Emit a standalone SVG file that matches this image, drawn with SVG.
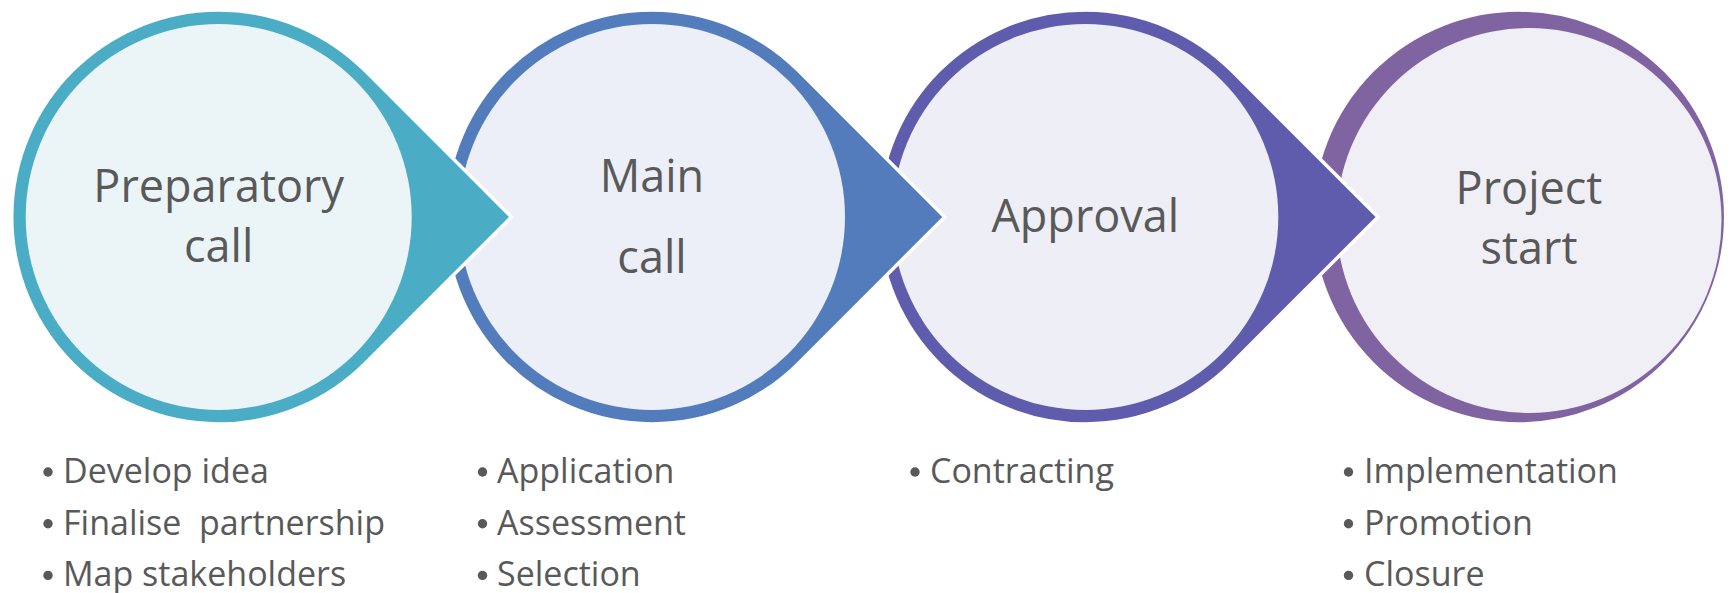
<svg xmlns="http://www.w3.org/2000/svg" width="1731" height="593" viewBox="0 0 1731 593">
  <style>
    .shape { stroke: #FFFFFF; stroke-width: 3.5; stroke-linejoin: miter; stroke-miterlimit: 10; }
    .title { font-family: "Open Sans", "Liberation Sans", sans-serif; font-size: 45px; fill: #595959; text-anchor: middle; }
    .item { font-family: "Open Sans", "Liberation Sans", sans-serif; font-size: 34px; fill: #595959; }
    .dot { fill: #595959; }
  </style>
  <rect width="1731" height="593" fill="#FFFFFF"/>

  <g id="node-project-start">
    <circle class="shape" cx="1518.7" cy="217" r="207" fill="#8064A2"/>
    <circle cx="1529" cy="220.5" r="192.5" fill="#F1EFF6"/>
    <text class="title" x="1529" y="204">Project</text>
    <text class="title" x="1529" y="264">start</text>
    <circle class="dot" cx="1348.5" cy="472" r="4.7"/>
    <text class="item" x="1364" y="482.7">Implementation</text>
    <circle class="dot" cx="1348.5" cy="523.7" r="4.7"/>
    <text class="item" x="1364" y="534.5">Promotion</text>
    <circle class="dot" cx="1348.5" cy="575.4" r="4.7"/>
    <text class="item" x="1364" y="586">Closure</text>
  </g>

  <g id="node-approval">
    <path class="shape" d="M1378.04 217 L1231.67 70.63 A207 207 0 1 0 1231.67 363.37 Z" fill="#5F5CAE"/>
    <circle cx="1085.3" cy="217" r="193" fill="#EEEEF7"/>
    <text class="title" x="1085.3" y="231.7">Approval</text>
    <circle class="dot" cx="915" cy="472" r="4.7"/>
    <text class="item" x="930" y="482.7">Contracting</text>
  </g>

  <g id="node-main-call">
    <path class="shape" d="M944.74 217 L798.37 70.63 A207 207 0 1 0 798.37 363.37 Z" fill="#527CBB"/>
    <circle cx="652" cy="217" r="193" fill="#ECEFF8"/>
    <text class="title" x="652" y="191.7">Main</text>
    <text class="title" x="652" y="273">call</text>
    <circle class="dot" cx="482.5" cy="472" r="4.7"/>
    <text class="item" x="497" y="482.7">Application</text>
    <circle class="dot" cx="482.5" cy="523.7" r="4.7"/>
    <text class="item" x="497" y="534.5">Assessment</text>
    <circle class="dot" cx="482.5" cy="575.4" r="4.7"/>
    <text class="item" x="497" y="586">Selection</text>
  </g>

  <g id="node-preparatory-call">
    <path class="shape" d="M511.44 217 L365.07 70.63 A207 207 0 1 0 365.07 363.37 Z" fill="#4BACC6"/>
    <circle cx="218.7" cy="217" r="193" fill="#EBF5F8"/>
    <text class="title" x="218.7" y="202">Preparatory</text>
    <text class="title" x="218.7" y="262">call</text>
    <circle class="dot" cx="48" cy="472" r="4.7"/>
    <text class="item" x="63" y="482.7">Develop idea</text>
    <circle class="dot" cx="48" cy="523.7" r="4.7"/>
    <text class="item" x="63" y="534.5" xml:space="preserve">Finalise  partnership</text>
    <circle class="dot" cx="48" cy="575.4" r="4.7"/>
    <text class="item" x="63" y="586">Map stakeholders</text>
  </g>
</svg>
